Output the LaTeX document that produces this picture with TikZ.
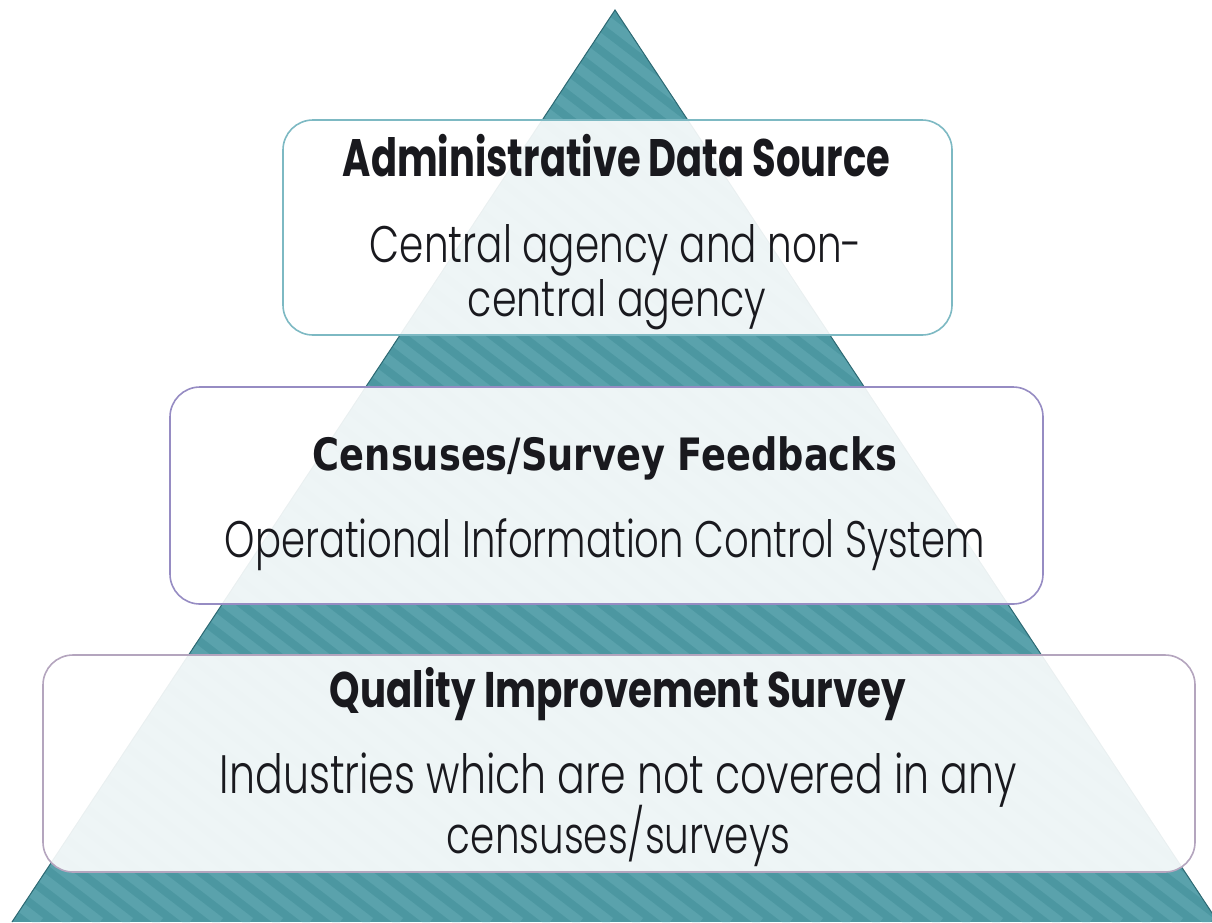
\documentclass[tikz,border=0pt]{standalone}
\usepackage{graphicx}
\usepackage{fontspec}
\setmainfont{Poppins}
\newfontfamily\bodyfont{Poppins Light}
\newfontfamily\headfont{Poppins}
\newfontfamily\tahfont{DejaVu Sans}
\newcommand{\fitline}[3]{\resizebox{#1pt}{#2pt}{\vphantom{l}\smash{#3}}}
\definecolor{teal0}{RGB}{76,151,161}
\definecolor{teal1}{RGB}{90,162,172}
\definecolor{tealedge}{RGB}{45,105,115}
\definecolor{bordA}{RGB}{125,185,195}
\definecolor{bordB}{RGB}{150,140,195}
\definecolor{bordC}{RGB}{180,165,190}
\definecolor{txt}{RGB}{25,25,30}
\tikzset{
  panel/.style={rectangle, rounded corners=30pt, fill=white, fill opacity=0.9, line width=1.6pt, inner sep=0pt},
  line/.style={anchor=base, inner sep=0pt, text=txt}
}
\begin{document}
\begin{tikzpicture}[x=1pt,y=-1pt]
\useasboundingbox (0,0) rectangle (1212,922);
% pyramid
\coordinate (apex) at (615,10);
\coordinate (bl) at (12,922);
\coordinate (br) at (1218,922);
\begin{scope}
  \clip (apex) -- (bl) -- (br) -- cycle;
  \fill[teal0] (0,0) rectangle (1212,922);
  \foreach \c in {-1400,-1370,...,1240} {
    \draw[teal1, line width=10pt] (\c,0) -- ++(1200,922);
  }
\end{scope}
\draw[tealedge, line width=1pt] (bl) -- (apex) -- (br);
% panels
\node[panel, draw=bordA, minimum width=669pt, minimum height=215pt] (pA) at (617.5,227.5) {};
\node[panel, draw=bordB, minimum width=873pt, minimum height=217pt] (pB) at (606.5,495.5) {};
\node[panel, draw=bordC, minimum width=1152pt, minimum height=217pt] (pC) at (619,763.5) {};
% texts
\node[line] (tA) at (616.5,176) {\fitline{547}{39}{\headfont\bfseries Administrative Data Source}};
\node[line] (bA1) at (616,262) {\fitline{492}{38}{\bodyfont Central agency and non-}};
\node[line] (bA2) at (617,316) {\fitline{298}{37}{\bodyfont central agency}};
\node[line] (tB) at (605,470) {\fitline{584}{33}{\tahfont\bfseries Censuses/Survey Feedbacks}};
\node[line] (bB) at (605,557) {\fitline{760}{38}{\bodyfont Operational Information Control System}};
\node[line] (tC) at (618,707) {\fitline{576}{37}{\headfont\bfseries Quality Improvement Survey}};
\node[line] (bC1) at (618.5,793) {\fitline{797}{40}{\bodyfont Industries which are not covered in any}};
\node[line] (bC2) at (618.5,853) {\fitline{343}{38}{\bodyfont censuses/surveys}};
\end{tikzpicture}
\end{document}
